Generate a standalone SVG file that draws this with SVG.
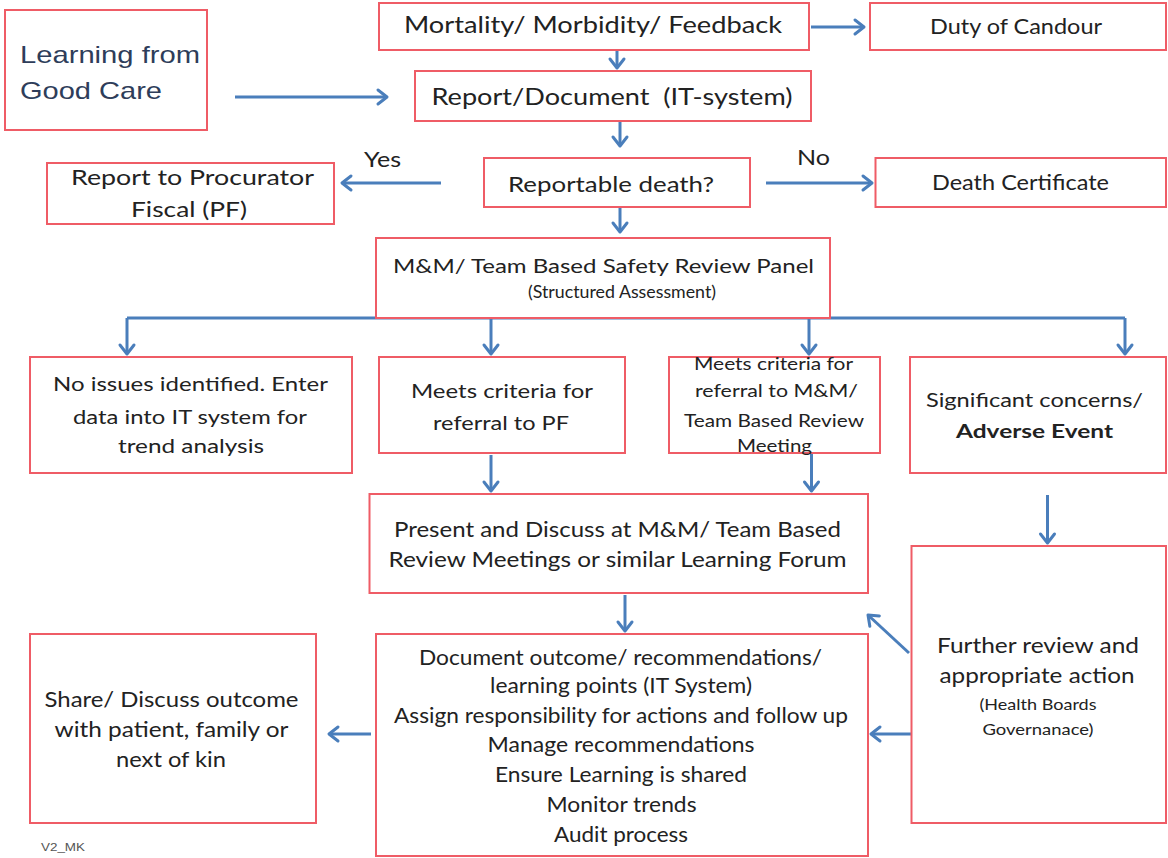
<svg xmlns="http://www.w3.org/2000/svg" width="1168" height="858" viewBox="0 0 1168 858">
<style>
.box{fill:#fff;stroke:#ef5c66;stroke-width:2}
.t{font-family:Lato,"Open Sans","Liberation Sans",sans-serif;fill:#222;text-anchor:middle}
.s24{font-size:24px}.s22{font-size:22px}.s21{font-size:21px}.s20{font-size:19.5px}.s17{font-size:17px}.s16{font-size:16px}
.ar{fill:none;stroke:#4a7ebb;stroke-width:3;marker-end:url(#ah)}
.ln{fill:none;stroke:#4a7ebb;stroke-width:3}
</style>
<defs>
<marker id="ah" markerUnits="userSpaceOnUse" markerWidth="20" markerHeight="20" refX="0" refY="0" orient="auto" overflow="visible">
<path d="M-9,-7 L0,0 L-9,7" fill="none" stroke="#4a7ebb" stroke-width="3" stroke-linecap="round" stroke-linejoin="round"/>
</marker>
</defs>
<rect width="1168" height="858" fill="#fff"/>

<g id="connectors">
<path class="ar" d="M235 97 H387"/>
<path class="ar" d="M811 27 H864"/>
<path class="ar" d="M617 50 V68"/>
<path class="ar" d="M620 122 V146"/>
<path class="ar" d="M441 183 H342"/>
<path class="ar" d="M766 183 H872"/>
<path class="ar" d="M620 208 V232"/>
<path class="ln" d="M127 318 H1125"/>
<path class="ar" d="M127 318 V354"/>
<path class="ar" d="M491 318 V354"/>
<path class="ar" d="M809 318 V354"/>
<path class="ar" d="M1125 318 V354"/>
<path class="ar" d="M491 455 V491"/>
<path class="ar" d="M811.5 453 V491"/>
<path class="ar" d="M1047.5 495 V543"/>
<path class="ar" d="M625 595 V631"/>
<path class="ar" d="M909 653 L868 615"/>
<path class="ar" d="M911 734 H871"/>
<path class="ar" d="M371 734 H329"/>
</g>

<g id="learning">
<rect class="box" x="5" y="10" width="202" height="120"/>
<text x="20" y="63" font-family="Liberation Sans, Arial, sans-serif" font-size="24" fill="#2e3d5a" textLength="180" lengthAdjust="spacingAndGlyphs">Learning from</text>
<text x="20" y="99" font-family="Liberation Sans, Arial, sans-serif" font-size="24" fill="#2e3d5a" textLength="142" lengthAdjust="spacingAndGlyphs">Good Care</text>
</g>

<g id="mortality">
<rect class="box" x="379" y="3" width="430" height="47"/>
<text class="t s24" x="593" y="33" textLength="378" lengthAdjust="spacingAndGlyphs">Mortality/ Morbidity/ Feedback</text>
</g>

<g id="duty">
<rect class="box" x="870" y="3" width="296" height="47"/>
<text class="t s22" x="1016" y="34" textLength="172" lengthAdjust="spacingAndGlyphs">Duty of Candour</text>
</g>

<g id="report">
<rect class="box" x="415" y="71" width="396" height="50"/>
<text class="t s24" x="612" y="105" xml:space="preserve" textLength="361" lengthAdjust="spacingAndGlyphs">Report/Document  (IT-system)</text>
</g>

<g id="reportable">
<rect class="box" x="484" y="158" width="266" height="49"/>
<text class="t s22" x="611" y="192" textLength="206" lengthAdjust="spacingAndGlyphs">Reportable death?</text>
</g>

<g id="labels">
<text class="t s21" x="382.5" y="167" textLength="37" lengthAdjust="spacingAndGlyphs">Yes</text>
<text class="t s21" x="813.5" y="165" textLength="33" lengthAdjust="spacingAndGlyphs">No</text>
<text x="41" y="851" font-family="Liberation Sans, Arial, sans-serif" font-size="11" fill="#555" textLength="44" lengthAdjust="spacingAndGlyphs">V2_MK</text>
</g>

<g id="procurator">
<rect class="box" x="47" y="163" width="287" height="61"/>
<text class="t s22" x="192.5" y="185" textLength="243" lengthAdjust="spacingAndGlyphs">Report to Procurator</text>
<text class="t s22" x="189" y="217" textLength="116" lengthAdjust="spacingAndGlyphs">Fiscal (PF)</text>
</g>

<g id="deathcert">
<rect class="box" x="875.5" y="158" width="290.5" height="49"/>
<text class="t s22" x="1020.5" y="190" textLength="177" lengthAdjust="spacingAndGlyphs">Death Certificate</text>
</g>

<g id="panel">
<rect class="box" x="376" y="238" width="454" height="80"/>
<text class="t s20" x="603.5" y="273" textLength="421" lengthAdjust="spacingAndGlyphs">M&amp;M/ Team Based Safety Review Panel</text>
<text class="t s17" x="622" y="298" textLength="188" lengthAdjust="spacingAndGlyphs">(Structured Assessment)</text>
</g>

<g id="noissues">
<rect class="box" x="30" y="357" width="322" height="116"/>
<text class="t s20" x="190.5" y="391" textLength="275" lengthAdjust="spacingAndGlyphs">No issues identified. Enter</text>
<text class="t s20" x="190" y="424" textLength="234" lengthAdjust="spacingAndGlyphs">data into IT system for</text>
<text class="t s20" x="191" y="453" textLength="146" lengthAdjust="spacingAndGlyphs">trend analysis</text>
</g>

<g id="meetspf">
<rect class="box" x="379" y="357" width="246" height="96"/>
<text class="t s20" x="502" y="398" textLength="182" lengthAdjust="spacingAndGlyphs">Meets criteria for</text>
<text class="t s20" x="501" y="430" textLength="136" lengthAdjust="spacingAndGlyphs">referral to PF</text>
</g>

<g id="meetsmm">
<rect class="box" x="669" y="357" width="211" height="96"/>
<text class="t s17" x="773.5" y="370" textLength="159" lengthAdjust="spacingAndGlyphs">Meets criteria for</text>
<text class="t s17" x="776.5" y="397" textLength="163" lengthAdjust="spacingAndGlyphs">referral to M&amp;M/</text>
<text class="t s17" x="774" y="427" textLength="180" lengthAdjust="spacingAndGlyphs">Team Based Review</text>
<text class="t s17" x="774.5" y="452" textLength="75" lengthAdjust="spacingAndGlyphs">Meeting</text>
</g>

<g id="significant">
<rect class="box" x="910" y="357" width="256" height="116"/>
<text class="t s20" x="1034.5" y="407" textLength="217" lengthAdjust="spacingAndGlyphs">Significant concerns/</text>
<text class="t s20" x="1034.5" y="438" font-weight="bold" textLength="157" lengthAdjust="spacingAndGlyphs">Adverse Event</text>
</g>

<g id="present">
<rect class="box" x="369.5" y="494" width="498.5" height="99"/>
<text class="t s21" x="617.5" y="537" textLength="447" lengthAdjust="spacingAndGlyphs">Present and Discuss at M&amp;M/ Team Based</text>
<text class="t s21" x="617.5" y="567" textLength="458" lengthAdjust="spacingAndGlyphs">Review Meetings or similar Learning Forum</text>
</g>

<g id="further">
<rect class="box" x="911.5" y="546" width="254.5" height="277"/>
<text class="t s22" x="1038" y="653" textLength="202" lengthAdjust="spacingAndGlyphs">Further review and</text>
<text class="t s22" x="1037" y="683" textLength="195" lengthAdjust="spacingAndGlyphs">appropriate action</text>
<text class="t s16" x="1038" y="710" textLength="117" lengthAdjust="spacingAndGlyphs">(Health Boards</text>
<text class="t s16" x="1038" y="735" textLength="111" lengthAdjust="spacingAndGlyphs">Governanace)</text>
</g>

<g id="document">
<rect class="box" x="376" y="634" width="492" height="222"/>
<text class="t s21" x="620.5" y="665" textLength="403" lengthAdjust="spacingAndGlyphs">Document outcome/ recommendations/</text>
<text class="t s21" x="621" y="693" textLength="262" lengthAdjust="spacingAndGlyphs">learning points (IT System)</text>
<text class="t s21" x="621" y="723" textLength="454" lengthAdjust="spacingAndGlyphs">Assign responsibility for actions and follow up</text>
<text class="t s21" x="621" y="752" textLength="267" lengthAdjust="spacingAndGlyphs">Manage recommendations</text>
<text class="t s21" x="621" y="782" textLength="252" lengthAdjust="spacingAndGlyphs">Ensure Learning is shared</text>
<text class="t s21" x="621.5" y="812" textLength="150" lengthAdjust="spacingAndGlyphs">Monitor trends</text>
<text class="t s21" x="621" y="842" textLength="134" lengthAdjust="spacingAndGlyphs">Audit process</text>
</g>

<g id="share">
<rect class="box" x="30" y="634" width="286" height="189"/>
<text class="t s21" x="171.5" y="707" textLength="254" lengthAdjust="spacingAndGlyphs">Share/ Discuss outcome</text>
<text class="t s21" x="171.5" y="737" textLength="234" lengthAdjust="spacingAndGlyphs">with patient, family or</text>
<text class="t s21" x="171" y="767" textLength="110" lengthAdjust="spacingAndGlyphs">next of kin</text>
</g>
</svg>
